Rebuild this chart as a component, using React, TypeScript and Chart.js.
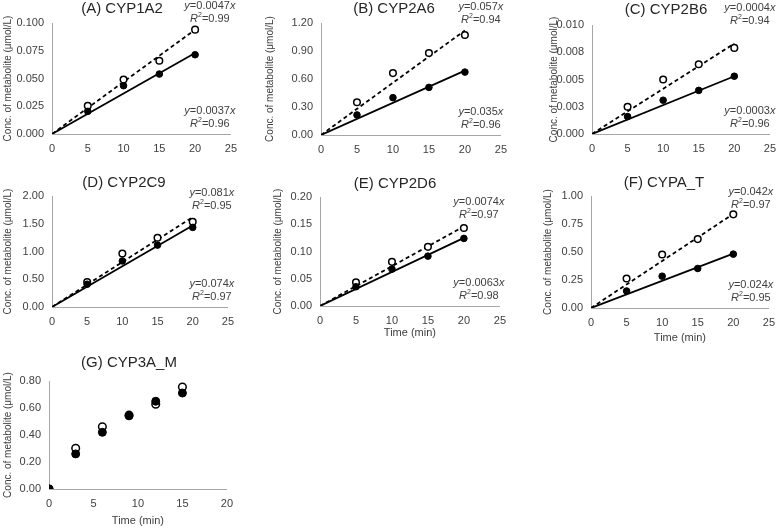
import React, { useEffect, useRef } from "react";
import { Chart, registerables } from "chart.js";

Chart.register(...registerables);

const FONT = '"Liberation Sans", Arial, Helvetica, sans-serif';
const TEXT = "#404040";
const AXIS = "#a6a6a6";

// ---------- data ----------
const panelTitles = ["(A) CYP1A2", "(B) CYP2A6", "(C) CYP2B6", "(D) CYP2C9", "(E) CYP2D6", "(F) CYPA_T", "(G) CYP3A_M"];
const yAxisTitle = "Conc. of metabolite (μmol/L)";
const xAxisTitle = "Time (min)";

const timesAF = [5, 10, 15, 20];
const timesG = [0, 3, 6, 9, 12, 15];

const filledA = [0.0204, 0.0435, 0.054, 0.0714];
const openA = [0.0255, 0.049, 0.066, 0.094];
const filledB = [0.215, 0.4, 0.51, 0.674];
const openB = [0.351, 0.663, 0.878, 1.071];
const filledC = [0.0016, 0.0031, 0.004, 0.0053];
const openC = [0.0025, 0.005, 0.0064, 0.0079];
const filledD = [0.41, 0.83, 1.115, 1.434];
const openD = [0.45, 0.965, 1.247, 1.536];
const filledE = [0.0353, 0.0677, 0.0915, 0.124];
const openE = [0.0434, 0.081, 0.1085, 0.143];
const filledF = [0.152, 0.284, 0.353, 0.481];
const openF = [0.263, 0.478, 0.615, 0.836];
const filledG = [0, 0.26, 0.42, 0.542, 0.65, 0.711];
const openG = [0, 0.302, 0.461, 0.547, 0.628, 0.755];

// fitted line end values at t = 20 (solid / dashed)
const fitSolidEnd = [0.073, 0.69, 0.0053, 1.47, 0.125, 0.485];
const fitDashedEnd = [0.094, 1.12, 0.0083, 1.62, 0.146, 0.84];

const eqTopSlope = ["0.0047", "0.057", "0.0004", "0.081", "0.0074", "0.042"];
const eqTopR2 = ["0.99", "0.94", "0.94", "0.95", "0.97", "0.97"];
const eqBottomSlope = ["0.0037", "0.035", "0.0003", "0.074", "0.0063", "0.024"];
const eqBottomR2 = ["0.96", "0.96", "0.96", "0.97", "0.98", "0.95"];

const yMax = [0.1, 1.2, 0.01, 2, 0.2, 1, 0.8];
const yStep = [0.025, 0.3, 0.0025, 0.5, 0.05, 0.25, 0.2];
const yTickLabelsA = ["0.000", "0.025", "0.050", "0.075", "0.100"];
const yTickLabelsB = ["0.00", "0.30", "0.60", "0.90", "1.20"];
const yTickLabelsC = ["0.000", "0.003", "0.005", "0.008", "0.010"];
const yTickLabelsD = ["0.00", "0.50", "1.00", "1.50", "2.00"];
const yTickLabelsE = ["0.00", "0.05", "0.10", "0.15", "0.20"];
const yTickLabelsF = ["0.00", "0.25", "0.50", "0.75", "1.00"];
const yTickLabelsG = ["0.00", "0.20", "0.40", "0.60", "0.80"];
const xMax = [25, 25, 25, 25, 25, 25, 20];
const xStep = 5;

const filledAll = [filledA, filledB, filledC, filledD, filledE, filledF, filledG];
const openAll = [openA, openB, openC, openD, openE, openF, openG];
const yTickLabelsAll = [yTickLabelsA, yTickLabelsB, yTickLabelsC, yTickLabelsD, yTickLabelsE, yTickLabelsF, yTickLabelsG];

// ---------- layout (pixel placement of each panel) ----------
type Lay = {
  L: number; R: number; T: number; B: number;
  yTitleGap: number; titleDx: number; titleDy: number;
  eqTopDy?: number; eqDx?: number; xTitleDy?: number;
};
const layouts: Lay[] = [
  { L: 52, R: 236, T: 23, B: 134, yTitleGap: 44, titleDx: 70, titleDy: -14, eqTopDy: -17, eqDx: -21 },
  { L: 321, R: 506, T: 23, B: 135, yTitleGap: 51, titleDx: 73, titleDy: -14, eqTopDy: -16, eqDx: -20 },
  { L: 592, R: 775, T: 25, B: 134, yTitleGap: 38, titleDx: 74, titleDy: -15, eqTopDy: -17.5, eqDx: -20 },
  { L: 52, R: 233, T: 196, B: 307, yTitleGap: 44, titleDx: 72, titleDy: -13, eqTopDy: -3, eqDx: -16 },
  { L: 320, R: 505, T: 197, B: 306, yTitleGap: 42, titleDx: 75, titleDy: -13, eqTopDy: 5, eqDx: -21, xTitleDy: 27 },
  { L: 591, R: 774, T: 196, B: 308, yTitleGap: 43, titleDx: 73, titleDy: -13, eqTopDy: -4, eqDx: -18, xTitleDy: 30 },
  { L: 49, R: 232, T: 381, B: 489, yTitleGap: 41, titleDx: 80, titleDy: -18, xTitleDy: 32 },
];

const TOP_PAD = 26;
const X_AXIS_H = 46;
const RIGHT_PAD = 9;

type Seg = { t: string; italic?: boolean; sup?: boolean };

function drawRich(ctx: CanvasRenderingContext2D, segs: Seg[], cx: number, cy: number) {
  const fontFor = (s: Seg) => `${s.italic ? "italic " : ""}${s.sup ? 7 : 11}px ${FONT}`;
  let total = 0;
  const widths = segs.map((s) => {
    ctx.font = fontFor(s);
    const w = ctx.measureText(s.t).width;
    total += w;
    return w;
  });
  let x = cx - total / 2;
  ctx.textAlign = "left";
  ctx.textBaseline = "middle";
  ctx.fillStyle = TEXT;
  segs.forEach((s, i) => {
    ctx.font = fontFor(s);
    ctx.fillText(s.t, x, s.sup ? cy - 3.5 : cy);
    x += widths[i];
  });
}

function Panel({ idx }: { idx: number }) {
  const ref = useRef<HTMLCanvasElement>(null);
  const lay = layouts[idx];
  const canvasLeft = Math.round(lay.L - lay.yTitleGap - 8);
  const canvasTop = Math.round(lay.T - TOP_PAD);
  const width = Math.round(lay.R + RIGHT_PAD - canvasLeft);
  const height = Math.round(lay.B + X_AXIS_H - canvasTop);
  const yAxisW = Math.round(lay.L) - canvasLeft;

  useEffect(() => {
    const isG = idx === 6;
    const times = isG ? timesG : timesAF;
    const filled = filledAll[idx];
    const open = openAll[idx];
    const labels = yTickLabelsAll[idx];

    const datasets: any[] = [
      {
        label: "filled",
        data: times.map((t, i) => ({ x: t, y: filled[i] })),
        pointRadius: isG ? 4 : 3.3,
        pointBackgroundColor: "#000",
        pointBorderColor: "#000",
        pointBorderWidth: 1,
        showLine: false,
      },
      {
        label: "open",
        data: times.map((t, i) => ({ x: t, y: open[i] })),
        pointRadius: isG ? 3.8 : 3.3,
        pointBackgroundColor: "#fff",
        pointBorderColor: "#000",
        pointBorderWidth: 1.5,
        showLine: false,
      },
    ];
    if (!isG) {
      const tEnd = timesAF[timesAF.length - 1];
      datasets.push(
        {
          label: "solid fit",
          data: [{ x: 0, y: 0 }, { x: tEnd, y: fitSolidEnd[idx] }],
          showLine: true,
          borderColor: "#000",
          borderWidth: 1.8,
          pointRadius: 0,
        },
        {
          label: "dashed fit",
          data: [{ x: 0, y: 0 }, { x: tEnd, y: fitDashedEnd[idx] }],
          showLine: true,
          borderColor: "#000",
          borderWidth: 1.8,
          borderDash: [4, 3],
          pointRadius: 0,
        }
      );
    }

    const annot = {
      id: "annot" + idx,
      afterDraw(chart: any) {
        const ctx: CanvasRenderingContext2D = chart.ctx;
        const a = chart.chartArea;
        ctx.save();
        ctx.font = `15px ${FONT}`;
        ctx.fillStyle = "#262626";
        ctx.textAlign = "center";
        ctx.textBaseline = "middle";
        ctx.fillText(panelTitles[idx], a.left + lay.titleDx, a.top + lay.titleDy);
        if (!isG) {
          const cx = a.right + (lay.eqDx as number);
          const ty = a.top + (lay.eqTopDy as number);
          drawRich(ctx, [{ t: "y", italic: true }, { t: "=" + eqTopSlope[idx] }, { t: "x", italic: true }], cx, ty);
          drawRich(ctx, [{ t: "R", italic: true }, { t: "2", sup: true }, { t: "=" + eqTopR2[idx] }], cx, ty + 13);
          const by = a.bottom - 23.5;
          drawRich(ctx, [{ t: "y", italic: true }, { t: "=" + eqBottomSlope[idx] }, { t: "x", italic: true }], cx, by);
          drawRich(ctx, [{ t: "R", italic: true }, { t: "2", sup: true }, { t: "=" + eqBottomR2[idx] }], cx, by + 13);
        }
        ctx.restore();
      },
    };

    const hasXTitle = lay.xTitleDy !== undefined;
    const chart = new Chart(ref.current as HTMLCanvasElement, {
      type: "scatter",
      data: { datasets },
      options: {
        responsive: false,
        animation: false,
        events: [],
        layout: { padding: { left: 0, top: TOP_PAD, right: RIGHT_PAD, bottom: 0 } },
        plugins: { legend: { display: false }, tooltip: { enabled: false }, title: { display: false } },
        scales: {
          x: {
            type: "linear",
            min: 0,
            max: xMax[idx],
            grid: { display: false, drawTicks: false, tickLength: 0 },
            border: { display: true, color: AXIS, width: 1 },
            ticks: {
              stepSize: xStep,
              color: TEXT,
              font: { size: 11, family: FONT },
              padding: 8,
              maxRotation: 0,
              autoSkip: false,
            },
            title: {
              display: hasXTitle,
              text: xAxisTitle,
              color: TEXT,
              font: { size: 11, family: FONT },
              padding: { top: 0, bottom: hasXTitle ? 39.4 - (lay.xTitleDy as number) : 0 },
            },
            afterFit: (s: any) => {
              s.height = X_AXIS_H;
            },
          },
          y: {
            type: "linear",
            min: 0,
            max: yMax[idx],
            grid: { display: false, drawTicks: false, tickLength: 0 },
            border: { display: true, color: AXIS, width: 1 },
            ticks: {
              stepSize: yStep[idx],
              color: TEXT,
              font: { size: 11, family: FONT },
              padding: 8,
              autoSkip: false,
              callback: (_v: any, i: number) => labels[i],
            },
            title: {
              display: true,
              text: yAxisTitle,
              color: TEXT,
              font: { size: 10, family: FONT },
              padding: { top: 2, bottom: 0 },
            },
            afterFit: (s: any) => {
              s.width = yAxisW;
            },
          },
        },
      } as any,
      plugins: [annot],
    });
    return () => chart.destroy();
  }, []);

  return (
    <canvas
      ref={ref}
      width={width}
      height={height}
      style={{ position: "absolute", left: canvasLeft, top: canvasTop, width, height }}
    />
  );
}

export default function App() {
  return (
    <div
      style={{
        position: "fixed",
        left: 0,
        top: 0,
        width: 784,
        height: 530,
        overflow: "hidden",
        background: "#fff",
      }}
    >
      {layouts.map((_, i) => (
        <Panel key={i} idx={i} />
      ))}
    </div>
  );
}
